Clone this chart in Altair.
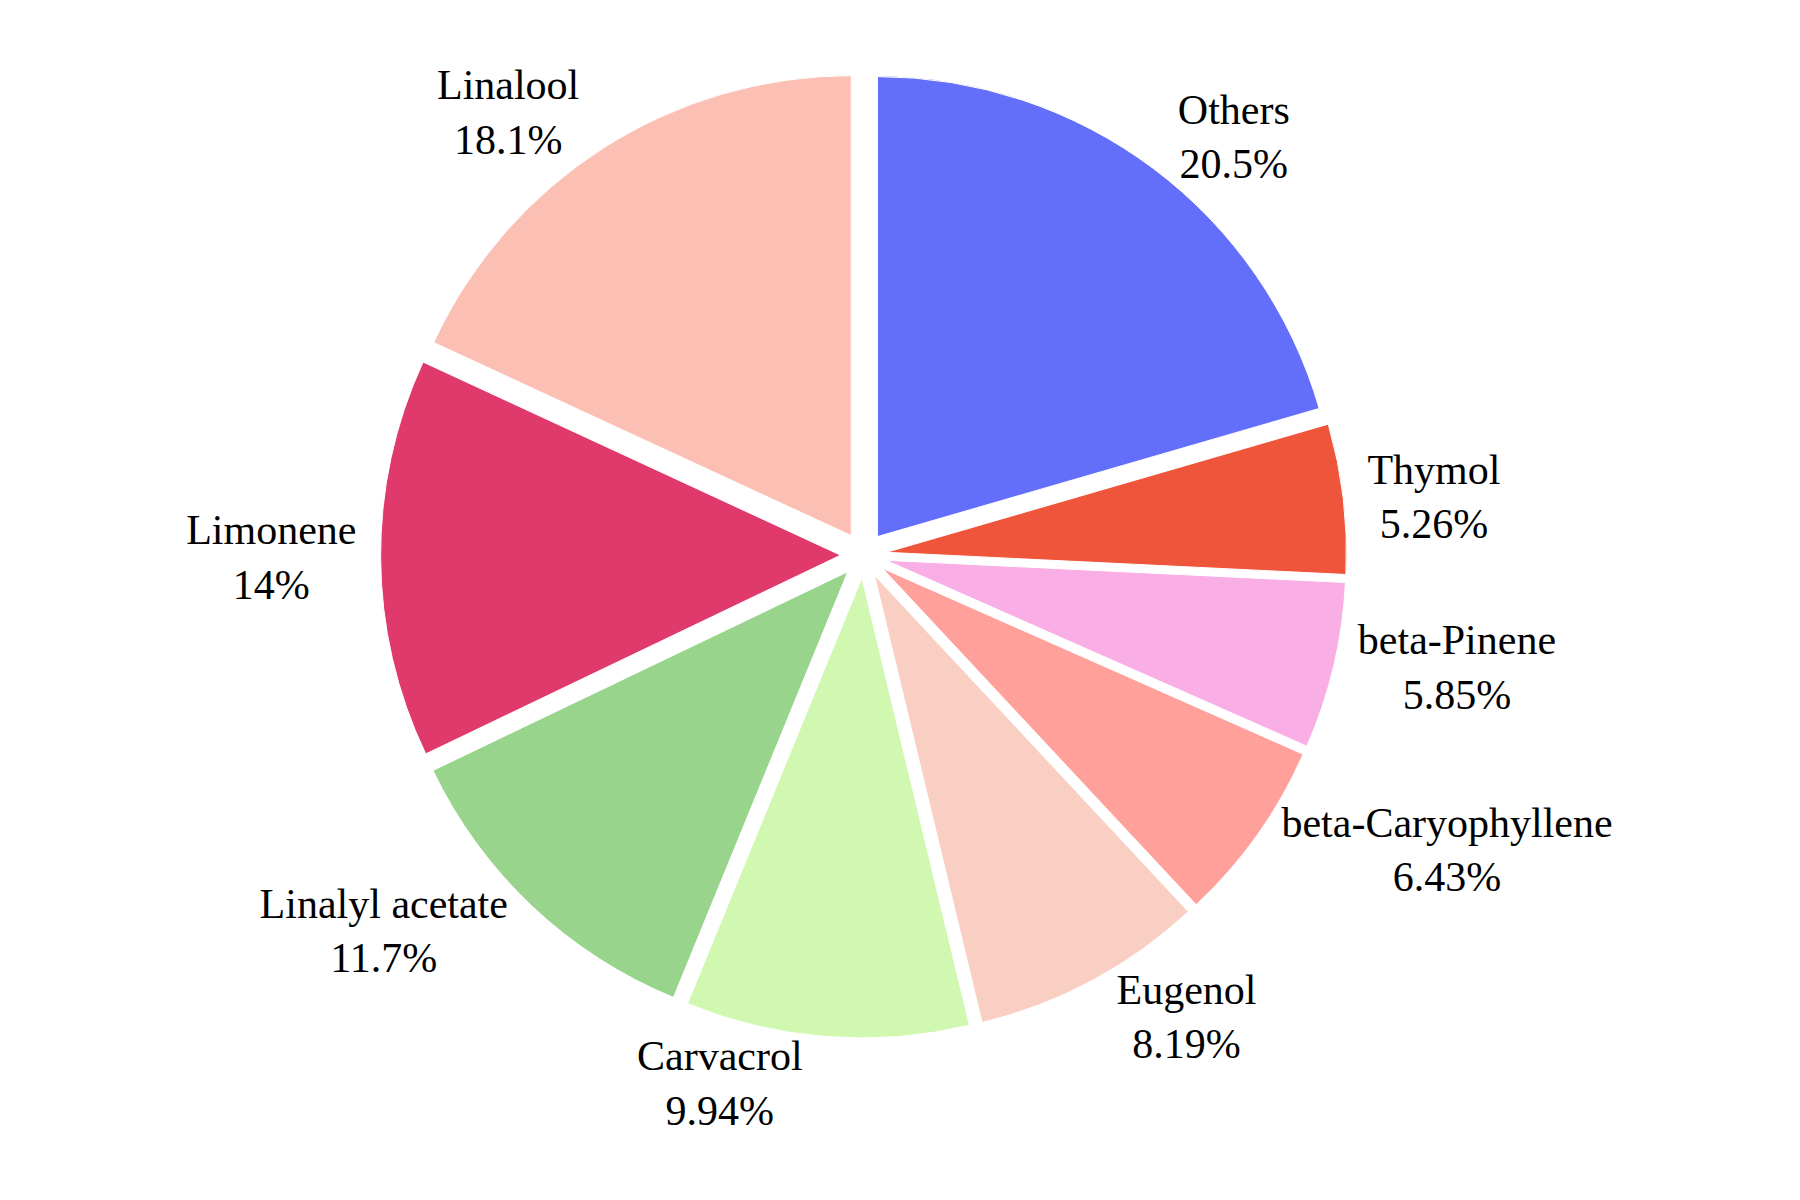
import altair as alt
import pandas as pd
import numpy as np

# ---- data ----
labels = ["Others", "Thymol", "beta-Pinene", "beta-Caryophyllene", "Eugenol",
          "Carvacrol", "Linalyl acetate", "Limonene", "Linalool"]
values = [20.5, 5.26, 5.85, 6.43, 8.19, 9.94, 11.7, 14.0, 18.1]
pct_text = ["20.5%", "5.26%", "5.85%", "6.43%", "8.19%", "9.94%", "11.7%", "14%", "18.1%"]
colors = ["#636EFA", "#EF553B", "#F9AFE5", "#FFA09A", "#F9CEC3",
          "#D0F8B0", "#98D48C", "#E0396C", "#FBBFB3"]

# ---- layout ----
W, H = 1784, 1184
CX, CY = 855.6, 547.0
R = 460.0
PULL = 0.05
FONT = 42
LINE = 1.3 * FONT

# Times / Liberation Serif advance widths (per 1000 em), for label placement
CW = {" ": 250, "%": 833, "-": 333, ".": 250, "A": 722, "C": 667, "E": 611, "L": 611,
      "O": 722, "P": 556, "T": 611, "a": 444, "b": 500, "c": 444, "d": 500, "e": 444,
      "f": 333, "g": 500, "h": 500, "i": 278, "l": 278, "m": 778, "n": 500, "o": 500,
      "p": 500, "r": 333, "s": 389, "t": 278, "u": 500, "v": 500, "y": 500}


def text_w(s):
    return sum(CW.get(ch, 500) for ch in s) * FONT / 1000.0


vals = np.array(values, dtype=float)
frac = vals / vals.sum()
end = np.cumsum(frac) * 2 * np.pi
start = end - frac * 2 * np.pi
mid = (start + end) / 2

rows = []
for i, lab in enumerate(labels):
    a = mid[i]
    ux, uy = np.sin(a), -np.cos(a)
    pcx = CX + PULL * R * ux
    pcy = CY + PULL * R * uy
    px, py = R * ux, R * uy
    w = max(text_w(lab), text_w(pct_text[i]))
    h = FONT + LINE
    dx = w / 2 * (1 if px >= 0 else -1)
    dy = h / 2 * (1 if py >= 0 else -1)
    tx = dx + abs(dy) * (1 if dx > 0 else -1) / 2
    ty = dy / (1 + px * px / (py * py))
    rows.append({
        "label": lab, "value": values[i], "t0": start[i], "t1": end[i],
        "cx": pcx, "cy": pcy, "lx": pcx + px + tx,
        # first-line anchor: block centre minus half a line
        "ly": pcy + py + ty - LINE / 2,
        "txt": lab + "\n" + pct_text[i],
    })

df = pd.DataFrame(rows)

arcs = alt.Chart(df).mark_arc(radius=R, stroke="white", strokeWidth=1).encode(
    x=alt.X("cx:Q", scale=None),
    y=alt.Y("cy:Q", scale=None),
    theta=alt.Theta("t0:Q", scale=None),
    theta2=alt.Theta2("t1:Q"),
    color=alt.Color("label:N", scale=alt.Scale(domain=labels, range=colors), legend=None),
)

texts = alt.Chart(df).mark_text(
    font="Liberation Serif", fontSize=FONT, lineBreak="\n", lineHeight=LINE,
    align="center", baseline="middle", color="black",
).encode(
    x=alt.X("lx:Q", scale=None),
    y=alt.Y("ly:Q", scale=None),
    text="txt:N",
)

chart = alt.layer(arcs, texts).properties(
    width=W, height=H, background="white", padding=0
).configure_view(stroke=None)

chart.save("out.html", embed_options={"renderer": "svg", "actions": False})
